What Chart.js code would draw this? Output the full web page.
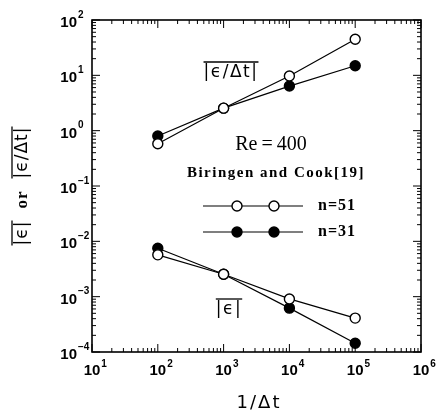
<!DOCTYPE html>
<html>
<head>
<meta charset="utf-8">
<script src="https://cdn.jsdelivr.net/npm/chart.js@4.4.1/dist/chart.umd.min.js"></script>
<style>
  html, body { margin: 0; padding: 0; background: #fff; }
  #wrap { width: 441px; height: 412px; }
</style>
</head>
<body>
<div id="wrap"><canvas id="errChart" width="441" height="412"></canvas></div>
<script>
const invDt = [1e2, 1e3, 1e4, 1e5];
const rateN51 = [0.58, 2.55, 9.7, 45];
const rateN31 = [0.80, 2.55, 6.4, 14.9];
const errN51 = [0.0057, 0.00254, 0.00091, 0.00041];
const errN31 = [0.0075, 0.00254, 0.00062, 0.000144];

// axis decades (tick labels are 10^k)
const xDecades = [1, 2, 3, 4, 5, 6];
const yDecades = [-4, -3, -2, -1, 0, 1, 2];

const legendLabels = ['n=51', 'n=31'];

function pts(ys) {
    return invDt.map((x, i) => ({ x: x, y: ys[i] }));
}

function series(label, ys, filled, order) {
    return {
        label: label,
        data: pts(ys),
        borderColor: '#000',
        borderWidth: 1.2,
        pointRadius: 5,
        pointHoverRadius: 5,
        pointBorderWidth: 1.4,
        pointBorderColor: '#000',
        pointBackgroundColor: filled ? '#000' : '#fff',
        fill: false,
        tension: 0,
        order: order
    };
}

const MATH_FONT = '17px "DejaVu Sans"';
const TICK_FONT = 'bold 15px "Liberation Sans"';
const EXP_FONT = 'bold 10px "Liberation Sans"';

// centred text with an overline across its full width
function overlined(ctx, text, x, y) {
    const w = ctx.measureText(text).width;
    ctx.textAlign = 'center';
    ctx.fillText(text, x, y);
    ctx.beginPath();
    ctx.lineWidth = 1.3;
    ctx.moveTo(x - w / 2, y - 11);
    ctx.lineTo(x + w / 2, y - 11);
    ctx.stroke();
}

const framePlugin = {
    id: 'frame',
    afterDraw(chart) {
        const ctx = chart.ctx;
        const a = chart.chartArea;
        const xs = chart.scales.x;
        const ys = chart.scales.y;
        ctx.save();
        ctx.strokeStyle = '#000';
        ctx.fillStyle = '#000';

        // frame
        ctx.lineWidth = 1.6;
        ctx.strokeRect(a.left, a.top, a.right - a.left, a.bottom - a.top);

        // inside ticks on all four sides
        ctx.lineWidth = 1;
        ctx.beginPath();
        for (let i = 0; i < xDecades.length; i++) {
            const d = xDecades[i];
            const px = xs.getPixelForValue(Math.pow(10, d));
            ctx.moveTo(px, a.bottom); ctx.lineTo(px, a.bottom - 8);
            ctx.moveTo(px, a.top); ctx.lineTo(px, a.top + 8);
            if (i < xDecades.length - 1) {
                for (let m = 2; m <= 9; m++) {
                    const p = xs.getPixelForValue(m * Math.pow(10, d));
                    ctx.moveTo(p, a.bottom); ctx.lineTo(p, a.bottom - 4);
                    ctx.moveTo(p, a.top); ctx.lineTo(p, a.top + 4);
                }
            }
        }
        for (let i = 0; i < yDecades.length; i++) {
            const d = yDecades[i];
            const py = ys.getPixelForValue(Math.pow(10, d));
            ctx.moveTo(a.left, py); ctx.lineTo(a.left + 8, py);
            ctx.moveTo(a.right, py); ctx.lineTo(a.right - 8, py);
            if (i < yDecades.length - 1) {
                for (let m = 2; m <= 9; m++) {
                    const p = ys.getPixelForValue(m * Math.pow(10, d));
                    ctx.moveTo(a.left, p); ctx.lineTo(a.left + 4, p);
                    ctx.moveTo(a.right, p); ctx.lineTo(a.right - 4, p);
                }
            }
        }
        ctx.stroke();

        // tick labels 10^k
        ctx.textBaseline = 'middle';
        xDecades.forEach(d => {
            const px = xs.getPixelForValue(Math.pow(10, d));
            ctx.font = TICK_FONT;
            ctx.textAlign = 'center';
            ctx.fillText('10', px, a.bottom + 19);
            const w = ctx.measureText('10').width;
            ctx.font = EXP_FONT;
            ctx.textAlign = 'left';
            ctx.fillText(String(d).replace('-', '\u2212'), px + w / 2 + 1, a.bottom + 12);
        });
        yDecades.forEach(d => {
            const py = ys.getPixelForValue(Math.pow(10, d));
            ctx.font = TICK_FONT;
            ctx.textAlign = 'right';
            ctx.fillText('10', a.left - 15, py + 3);
            ctx.font = EXP_FONT;
            ctx.textAlign = 'left';
            ctx.fillText(String(d).replace('-', '\u2212'), a.left - 14, py - 5);
        });
        ctx.textAlign = 'center';

        // axis titles
        ctx.save();
        ctx.font = '18px "DejaVu Sans"';
        ctx.letterSpacing = '2px';
        ctx.fillText('1/\u0394t', 259, 403);
        ctx.restore();

        ctx.save();
        ctx.translate(23, 186);
        ctx.rotate(-Math.PI / 2);
        ctx.letterSpacing = '1px';
        ctx.font = MATH_FONT;
        const s1 = '|\u03f5|', s2 = 'or', s3 = '|\u03f5/\u0394t|';
        const gap = 12;
        const w1 = ctx.measureText(s1).width;
        const w3 = ctx.measureText(s3).width;
        ctx.font = 'bold 17px "Liberation Serif"';
        const w2 = ctx.measureText(s2).width;
        const total = w1 + w2 + w3 + 2 * gap;
        let cx = -total / 2;
        ctx.font = MATH_FONT;
        overlined(ctx, s1, cx + w1 / 2, 0);
        cx += w1 + gap;
        ctx.font = 'bold 17px "Liberation Serif"';
        ctx.fillText(s2, cx + w2 / 2, 0);
        cx += w2 + gap;
        ctx.font = MATH_FONT;
        overlined(ctx, s3, cx + w3 / 2, 0);
        ctx.restore();

        // curve annotations
        ctx.save();
        ctx.font = MATH_FONT;
        ctx.letterSpacing = '1.5px';
        overlined(ctx, '|\u03f5/\u0394t|', 231, 73);
        overlined(ctx, '|\u03f5|', 229, 310);
        ctx.restore();

        ctx.font = '20px "Liberation Serif"';
        ctx.fillText('Re\u2009=\u2009400', 271, 145);
        ctx.save();
        ctx.font = 'bold 15px "Liberation Serif"';
        ctx.letterSpacing = '1.5px';
        ctx.fillText('Biringen and Cook[19]', 276, 173);
        ctx.restore();

        // legend
        const rows = [206, 232];
        const fills = ['#fff', '#000'];
        rows.forEach((y, i) => {
            ctx.lineWidth = 1.2;
            ctx.beginPath();
            ctx.moveTo(203, y); ctx.lineTo(303, y);
            ctx.stroke();
            [237, 274].forEach(x => {
                ctx.beginPath();
                ctx.arc(x, y, 5, 0, Math.PI * 2);
                ctx.fillStyle = fills[i];
                ctx.fill();
                ctx.lineWidth = 1.4;
                ctx.stroke();
            });
            ctx.save();
            ctx.fillStyle = '#000';
            ctx.font = 'bold 16px "Liberation Serif"';
            ctx.letterSpacing = '1px';
            ctx.textAlign = 'left';
            ctx.fillText(legendLabels[i], 318, y);
            ctx.restore();
        });
        ctx.restore();
    }
};

new Chart(document.getElementById('errChart').getContext('2d'), {
    type: 'line',
    data: {
        datasets: [
            series('n=51 rate', rateN51, false, 0),
            series('n=51 err', errN51, false, 0),
            series('n=31 rate', rateN31, true, 1),
            series('n=31 err', errN31, true, 1)
        ]
    },
    options: {
        responsive: false,
        animation: false,
        layout: { padding: { left: 92, top: 20, right: 20, bottom: 60 } },
        scales: {
            x: { type: 'logarithmic', min: 10, max: 1e6, display: false },
            y: { type: 'logarithmic', min: 1e-4, max: 100, display: false }
        },
        plugins: {
            legend: { display: false },
            tooltip: { enabled: false }
        }
    },
    plugins: [framePlugin]
});
</script>
</body>
</html>
